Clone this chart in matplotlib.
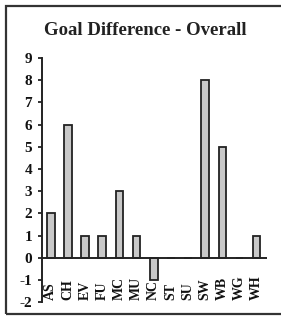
import matplotlib
matplotlib.use("Agg")
from matplotlib import pyplot as plt
from matplotlib.patches import Rectangle

teams = ['AS', 'CH', 'EV', 'FU', 'MC', 'MU', 'NC', 'ST', 'SU', 'SW', 'WB', 'WG', 'WH']
goal_diff = [2, 6, 1, 1, 3, 1, -1, 0, 0, 8, 5, 0, 1]
yticks = list(range(-2, 10))

plt.rcParams['font.family'] = 'Liberation Serif'
plt.rcParams['font.weight'] = 'bold'
plt.rcParams['axes.unicode_minus'] = False

fig = plt.figure(figsize=(2.81, 3.17), dpi=100)
ax = fig.add_axes([0.149, 0.047, 0.80, 0.770])

xs = range(len(teams))
ax.bar(xs, goal_diff, width=0.44, color='#c8c8c8', edgecolor='#222222', linewidth=1.3, zorder=2)
ax.axhline(0, color='#222222', linewidth=1.4, zorder=3)

# team labels sit inside the plot, under the zero line
for x, t in zip(xs, teams):
    ax.text(x, -1.9, t, rotation=90, ha='center', va='bottom', fontsize=10,
            fontweight='bold', color='#111111')

ax.set_xlim(-0.52, 12.58)
ax.set_ylim(-2, 9)
ax.set_yticks(yticks)
ax.set_xticks([])
ax.tick_params(axis='y', direction='out', length=3, width=1.2, labelsize=11, pad=4, colors='#111111')
for s in ['top', 'right', 'bottom']:
    ax.spines[s].set_visible(False)
ax.spines['left'].set_linewidth(1.4)
ax.spines['left'].set_color('#222222')

fig.text(0.516, 0.905, 'Goal Difference - Overall', ha='center', va='center',
         fontsize=13.5, fontweight='bold', color='#222222')

fig.add_artist(Rectangle((0.022, 0.01), 0.985, 0.972, transform=fig.transFigure,
                         fill=False, edgecolor='#333333', linewidth=1.6))

fig.savefig('out.png', dpi=100)
